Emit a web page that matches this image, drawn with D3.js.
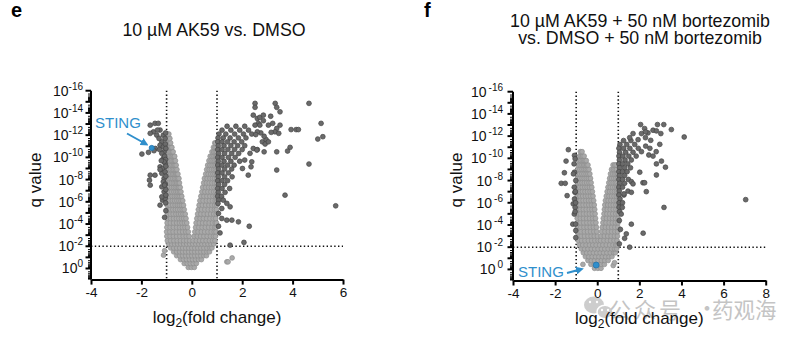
<!DOCTYPE html>
<html>
<head>
<meta charset="utf-8">
<script src="https://cdn.jsdelivr.net/npm/d3@7"></script>
<style>
  body { margin: 0; background: #fff; }
  svg { display: block; font-family: "Liberation Sans", Arial, sans-serif; }
</style>
</head>
<body>
<svg id="chart" width="804" height="344"></svg>
<script>
// rows: [-log10(q), log2FC, log2FC, ...] for the non-significant cloud
const eLightRows = [
  [0.1, -0.14, -0.02, 0.1],
  [0.45, -0.3, -0.18, -0.06, 0.06, 0.18],
  [0.8, -0.45, -0.33, -0.21, -0.09, 0.03, 0.15, 0.27, 0.38],
  [1.15, -0.6, -0.48, -0.36, -0.24, -0.12, 0.0, 0.12, 0.24, 0.36, 0.48, 0.58],
  [1.5, -0.72, -0.6, -0.48, -0.36, -0.24, -0.12, 0.0, 0.12, 0.24, 0.36, 0.48, 0.6, 0.7],
  [1.85, -0.84, -0.72, -0.6, -0.48, -0.36, -0.24, -0.12, 0.0, 0.12, 0.24, 0.36, 0.48, 0.6, 0.72, 0.8],
  [2.2, -0.92, -0.8, -0.68, -0.56, -0.44, -0.32, -0.2, -0.08, 0.04, 0.16, 0.28, 0.4, 0.52, 0.64, 0.76, 0.87],
  [2.5, -0.97, -0.84, -0.71, -0.58, -0.45, -0.32, -0.2, -0.08, 0.05, 0.18, 0.31, 0.44, 0.57, 0.7, 0.82, 0.92],
  [2.9, -0.99, -0.86, -0.73, -0.6, -0.47, -0.34, -0.22, -0.11, 0.09, 0.22, 0.35, 0.48, 0.61, 0.74, 0.86, 0.94],
  [3.3, -1.0, -0.87, -0.74, -0.61, -0.48, -0.36, -0.24, -0.14, 0.12, 0.25, 0.38, 0.51, 0.64, 0.77, 0.89, 0.96],
  [3.7, -0.99, -0.86, -0.73, -0.6, -0.48, -0.37, -0.27, -0.17, 0.15, 0.28, 0.41, 0.54, 0.67, 0.8, 0.91, 0.97],
  [4.1, -0.98, -0.85, -0.72, -0.6, -0.49, -0.39, -0.29, -0.2, 0.17, 0.3, 0.43, 0.56, 0.69, 0.82, 0.93, 0.98],
  [4.5, -0.97, -0.84, -0.72, -0.61, -0.51, -0.41, -0.32, -0.23, 0.2, 0.33, 0.46, 0.59, 0.72, 0.85, 0.95],
  [4.9, -0.97, -0.85, -0.74, -0.63, -0.53, -0.44, -0.35, -0.26, 0.23, 0.36, 0.49, 0.62, 0.75, 0.87, 0.97],
  [5.3, -0.97, -0.86, -0.75, -0.65, -0.56, -0.47, -0.38, -0.3, 0.26, 0.39, 0.52, 0.65, 0.78, 0.9, 0.98],
  [5.7, -0.98, -0.87, -0.76, -0.66, -0.57, -0.49, -0.41, -0.33, 0.29, 0.42, 0.55, 0.68, 0.8, 0.91, 0.99],
  [6.1, -0.98, -0.87, -0.77, -0.68, -0.59, -0.51, -0.43, -0.36, 0.32, 0.45, 0.58, 0.7, 0.82, 0.93, 0.99],
  [6.5, -0.98, -0.88, -0.78, -0.69, -0.61, -0.54, -0.47, -0.4, 0.36, 0.48, 0.6, 0.72, 0.84, 0.94, 1.0],
  [6.9, -0.99, -0.89, -0.8, -0.71, -0.63, -0.56, -0.49, -0.43, 0.4, 0.52, 0.64, 0.76, 0.87, 0.96],
  [7.3, -0.99, -0.89, -0.8, -0.72, -0.65, -0.58, -0.52, -0.46, 0.43, 0.55, 0.67, 0.78, 0.88, 0.97],
  [7.7, -0.99, -0.9, -0.81, -0.73, -0.66, -0.6, -0.54, -0.49, 0.47, 0.58, 0.69, 0.8, 0.9, 0.98],
  [8.1, -1.0, -0.91, -0.82, -0.75, -0.68, -0.62, -0.56, -0.51, 0.5, 0.61, 0.72, 0.82, 0.91, 0.99],
  [8.5, -1.0, -0.91, -0.83, -0.76, -0.7, -0.64, -0.59, -0.55, 0.55, 0.65, 0.75, 0.84, 0.92, 0.99],
  [8.9, -1.0, -0.92, -0.84, -0.77, -0.71, -0.65, -0.59, 0.59, 0.69, 0.78, 0.87, 0.94, 1.0],
  [9.3, -1.0, -0.92, -0.85, -0.78, -0.72, -0.67, -0.62, 0.63, 0.72, 0.81, 0.89, 0.96],
  [9.7, -1.0, -0.93, -0.86, -0.8, -0.74, -0.69, -0.65, 0.68, 0.77, 0.85, 0.92, 0.98],
  [10.1, -1.0, -0.93, -0.87, -0.81, -0.76, -0.71, -0.68, 0.73, 0.81, 0.88, 0.94, 0.99],
  [10.5, -0.99, -0.93, -0.87, -0.82, -0.77, -0.74, 0.8, 0.87, 0.93, 0.98],
  [10.9, -0.99, -0.93, -0.88, -0.83, -0.79, 0.86, 0.92, 0.97],
  [11.3, -0.98, -0.93, -0.88, -0.84, 0.91, 0.95],
  [11.7, -0.97, -0.92, -0.87],
  [12.1, -0.95, -0.91],
  [0.6, 1.39, 1.44],
  [0.95, 1.6],
  [1.2, -1.12],
  [1.6, -1.08]
];

// [log2FC, -log10(q)] for significant proteins
const eDark = [
  [-1.98, 10.3], [-1.72, 10.45], [-1.65, 12.9], [-1.46, 13.06], [-1.33, 13.06], [-1.52, 12.3],
  [-1.39, 12.0], [-1.65, 12.16], [-1.26, 12.46], [-1.13, 12.0], [-1.06, 11.7], [-1.19, 11.4],
  [-1.26, 11.1], [-1.13, 10.95], [-1.1, 10.5], [-1.19, 10.36], [-1.13, 9.9], [-1.06, 9.46],
  [-1.26, 9.15], [-1.16, 9.0], [-1.19, 8.56], [-1.1, 8.1], [-1.13, 7.8], [-1.19, 7.35],
  [-1.1, 6.9], [-1.06, 6.45], [-1.16, 6.15], [-1.26, 5.7], [-1.65, 8.4], [-1.68, 7.95],
  [-1.65, 7.5], [-1.46, 8.4], [-1.26, 8.9], [-1.06, 6.3], [-1.19, 6.45], [-1.04, 12.2],
  [-1.05, 11.2], [-1.03, 10.8], [-1.08, 10.1], [-1.04, 9.8], [-1.1, 9.6], [-1.03, 9.2],
  [-1.06, 8.7], [-1.03, 8.3], [-1.05, 7.6], [-1.03, 7.1], [-1.08, 7.5], [-1.03, 6.6],
  [-1.04, 5.9], [-1.03, 5.2], [-1.08, 4.6], [-1.36, 12.46], [-1.3, 11.7], [-1.45, 10.8],
  [-1.28, 10.7], [-1.21, 9.7], [-1.5, 10.6],
  // dense block just right of log2FC = 1
  [1.4, 12.8], [1.75, 12.8], [2.1, 12.8],
  [1.2, 12.45], [1.55, 12.45], [1.9, 12.45], [2.25, 12.45],
  [1.08, 12.1], [1.35, 12.1], [1.7, 12.1], [2.05, 12.1], [2.38, 12.1],
  [1.04, 11.75], [1.25, 11.75], [1.52, 11.75], [1.85, 11.75], [2.15, 11.75],
  [1.03, 11.4], [1.2, 11.4], [1.42, 11.4], [1.68, 11.4], [1.98, 11.4],
  [1.05, 11.05], [1.28, 11.05], [1.55, 11.05], [1.82, 11.05], [2.1, 11.05],
  [1.03, 10.7], [1.2, 10.7], [1.43, 10.7], [1.7, 10.7], [2.0, 10.7],
  [1.06, 10.35], [1.3, 10.35], [1.58, 10.35], [1.86, 10.35],
  [1.03, 10.0], [1.2, 10.0], [1.45, 10.0], [1.72, 10.0],
  [1.05, 9.65], [1.28, 9.65], [1.55, 9.65], [1.9, 9.65],
  [1.03, 9.3], [1.2, 9.3], [1.42, 9.3], [1.68, 9.3],
  [1.06, 8.95], [1.3, 8.95], [1.58, 8.95],
  [1.03, 8.6], [1.2, 8.6], [1.45, 8.6],
  [1.05, 8.25], [1.3, 8.25], [1.6, 8.25],
  [1.03, 7.9], [1.2, 7.9], [1.42, 7.9],
  [1.06, 7.55], [1.3, 7.55],
  [1.03, 7.2], [1.2, 7.2], [1.5, 7.2],
  [1.05, 6.85], [1.32, 6.85],
  [1.03, 6.5], [1.18, 6.5],
  [1.06, 6.15], [1.25, 6.15], [1.04, 5.85], [1.39, 5.86],
  // scattered, up-regulated
  [2.51, 14.86], [2.51, 14.5], [3.31, 14.86], [3.37, 14.5], [3.5, 14.1], [4.65, 14.86],
  [2.44, 13.8], [2.6, 13.5], [2.7, 13.6], [2.84, 13.8], [2.64, 13.06], [2.51, 12.9],
  [2.7, 12.9], [2.84, 13.3], [3.13, 13.7], [3.21, 13.06], [3.04, 12.9], [3.5, 12.9],
  [3.37, 12.6], [3.3, 12.3], [3.45, 12.16], [3.94, 12.5], [4.14, 12.5], [4.23, 12.5],
  [5.13, 13.06], [5.0, 11.65], [5.2, 11.86], [4.65, 9.4], [3.37, 8.86], [3.7, 6.6],
  [3.9, 10.9], [3.8, 10.57], [3.37, 10.5], [2.87, 10.5], [2.6, 10.7], [2.8, 11.4],
  [2.95, 11.6], [2.87, 11.9], [2.74, 12.2], [2.6, 12.3], [2.54, 12.05], [2.35, 9.15],
  [2.24, 8.4], [2.01, 9.0], [2.1, 9.76], [2.31, 10.36], [2.44, 10.8], [2.58, 10.66],
  [2.91, 11.2], [3.04, 11.4], [3.15, 12.25], [2.38, 9.6],
  [1.19, 5.4], [1.52, 5.55], [1.06, 4.95], [1.19, 4.5], [1.39, 4.35], [1.59, 4.35],
  [1.85, 4.2], [2.28, 3.8], [1.52, 2.1], [2.07, 2.35], [1.06, 3.8], [1.12, 3.2],
  [5.71, 5.64]
];

const eSting = [-1.59, 10.85];

const fLightRows = [
  [0.1, -0.13, 0.03, 0.18],
  [0.45, -0.3, -0.14, 0.02, 0.18, 0.34],
  [0.8, -0.44, -0.28, -0.12, 0.04, 0.2, 0.36, 0.52],
  [1.15, -0.56, -0.4, -0.24, -0.08, 0.08, 0.24, 0.4, 0.56, 0.7],
  [1.5, -0.66, -0.5, -0.34, -0.18, -0.02, 0.14, 0.3, 0.46, 0.62, 0.78, 0.86],
  [1.85, -0.76, -0.6, -0.44, -0.28, -0.12, 0.04, 0.2, 0.36, 0.52, 0.68, 0.82, 0.92],
  [2.2, -0.85, -0.69, -0.53, -0.37, -0.21, -0.05, 0.11, 0.27, 0.43, 0.59, 0.75, 0.88, 0.95],
  [2.6, -0.9, -0.74, -0.58, -0.42, -0.26, -0.11, 0.04, 0.16, 0.32, 0.48, 0.64, 0.8, 0.94],
  [3.0, -0.92, -0.76, -0.6, -0.44, -0.29, -0.14, 0.01, 0.18, 0.34, 0.5, 0.66, 0.82, 0.96],
  [3.4, -0.93, -0.77, -0.61, -0.46, -0.31, -0.16, -0.02, 0.21, 0.37, 0.53, 0.69, 0.84, 0.97],
  [3.8, -0.94, -0.78, -0.63, -0.48, -0.33, -0.18, -0.04, 0.24, 0.39, 0.54, 0.69, 0.84, 0.98],
  [4.2, -0.94, -0.79, -0.64, -0.49, -0.34, -0.2, -0.06, 0.27, 0.42, 0.57, 0.72, 0.86, 0.99],
  [4.6, -0.95, -0.8, -0.65, -0.5, -0.36, -0.22, -0.08, 0.29, 0.44, 0.59, 0.73, 0.87, 0.99],
  [5.0, -0.95, -0.8, -0.65, -0.51, -0.37, -0.23, -0.1, 0.32, 0.46, 0.6, 0.74, 0.88, 1.0],
  [5.4, -0.95, -0.8, -0.66, -0.52, -0.38, -0.25, -0.12, 0.34, 0.48, 0.62, 0.76, 0.89, 1.0],
  [5.8, -0.95, -0.81, -0.67, -0.53, -0.4, -0.27, -0.14, 0.36, 0.5, 0.63, 0.76, 0.89, 1.0],
  [6.2, -0.95, -0.81, -0.67, -0.54, -0.41, -0.29, -0.17, 0.39, 0.52, 0.65, 0.78, 0.9, 1.0],
  [6.6, -0.95, -0.82, -0.69, -0.56, -0.44, -0.32, -0.2, 0.43, 0.56, 0.68, 0.8, 0.91, 1.0],
  [7.0, -0.95, -0.82, -0.7, -0.58, -0.46, -0.34, -0.23, 0.47, 0.59, 0.71, 0.82, 0.92, 1.0],
  [7.4, -0.95, -0.83, -0.71, -0.59, -0.48, -0.37, -0.26, 0.51, 0.62, 0.73, 0.84, 0.93, 1.0],
  [7.8, -0.94, -0.83, -0.72, -0.61, -0.5, -0.39, -0.29, 0.55, 0.66, 0.76, 0.86, 0.94],
  [8.2, -0.94, -0.83, -0.72, -0.62, -0.52, -0.42, -0.32, 0.59, 0.69, 0.79, 0.88, 0.96],
  [8.6, -0.93, -0.83, -0.73, -0.63, -0.53, -0.44, -0.35, 0.63, 0.73, 0.82, 0.9, 0.97],
  [9.0, -0.92, -0.82, -0.72, -0.63, -0.55, -0.47, -0.39, 0.68, 0.77, 0.85, 0.92],
  [9.4, -0.9, -0.81, -0.72, -0.64, -0.57, -0.5, -0.44, 0.75, 0.83, 0.9],
  [9.8, -0.88, -0.79, -0.71, -0.64, -0.58, -0.52],
  [10.2, -0.84, -0.76, -0.69, -0.62],
  [10.6, -0.8, -0.72],
  [0.45, -0.68],
  [0.35, 0.76],
  [0.6, 0.82]
];

const fDark = [
  [-1.37, 10.78], [-1.48, 9.75], [-1.56, 8.7], [-1.71, 7.75], [-1.52, 7.75], [-1.43, 6.64],
  [-1.16, 4.07], [-1.08, 10.26], [-1.05, 9.96], [-1.1, 9.5], [-1.08, 8.75], [-1.13, 8.6],
  [-1.09, 7.4], [-1.06, 6.94], [-1.08, 6.34], [-1.14, 5.9], [-1.05, 5.58], [-1.09, 4.98],
  [-1.03, 4.08], [-1.02, 2.86], [-1.04, 7.0], [-1.02, 8.0], [-1.03, 6.0], [-1.05, 5.2],
  [-1.02, 3.5],
  // dense block just right of log2FC = 1
  [1.25, 11.6], [1.6, 11.6],
  [1.08, 11.25], [1.4, 11.25], [1.78, 11.25],
  [1.03, 10.9], [1.25, 10.9], [1.55, 10.9], [1.95, 10.9],
  [1.06, 10.55], [1.35, 10.55], [1.7, 10.55],
  [1.03, 10.2], [1.22, 10.2], [1.5, 10.2], [1.85, 10.2],
  [1.05, 9.85], [1.32, 9.85], [1.62, 9.85],
  [1.03, 9.5], [1.2, 9.5], [1.45, 9.5],
  [1.06, 9.15], [1.3, 9.15], [1.58, 9.15],
  [1.03, 8.8], [1.2, 8.8], [1.42, 8.8],
  [1.05, 8.45], [1.3, 8.45],
  [1.03, 8.1], [1.2, 8.1], [1.48, 8.1],
  [1.06, 7.75], [1.3, 7.75],
  [1.03, 7.4], [1.2, 7.4],
  [1.05, 7.05], [1.46, 7.05],
  [1.03, 6.7], [1.27, 6.7], [1.08, 6.35], [1.04, 6.0], [1.2, 6.0],
  [1.04, 5.6], [1.06, 5.2], [1.05, 4.4], [1.1, 3.6], [1.05, 2.3],
  // scattered, up-regulated
  [2.06, 13.04], [2.86, 13.04], [3.16, 13.04], [3.52, 12.59], [4.13, 11.92], [2.25, 12.68],
  [2.41, 12.29], [2.65, 12.53], [2.81, 12.47], [3.02, 12.23], [2.1, 12.23], [2.3, 12.38],
  [2.29, 11.86], [2.54, 11.62], [1.7, 12.23], [1.54, 11.86], [1.94, 11.68], [2.97, 11.26],
  [2.5, 10.9], [2.3, 11.1], [2.1, 10.6], [2.45, 10.3], [2.8, 10.6], [2.65, 10.2],
  [3.05, 9.75], [2.81, 9.5], [3.24, 9.2], [2.81, 8.5], [2.33, 7.0], [2.17, 7.8],
  [2.25, 7.8], [2.02, 8.75], [1.62, 7.9], [1.7, 7.7], [3.17, 5.58], [7.05, 6.28],
  [2.18, 3.26], [1.62, 4.07], [1.54, 2.0], [1.3, 2.8], [1.38, 3.2], [1.14, 4.98],
  [1.19, 5.58], [1.27, 6.8], [1.62, 6.94]
];

const fSting = [-0.05, 0.39];

const eXTicks = [-4, -2, 0, 2, 4, 6];
const fXTicks = [-4, -2, 0, 2, 4, 6, 8];
const yLabelExps = [16, 14, 12, 10, 8, 6, 4, 2, 0];

const LIGHT_FILL = '#a9a9a9', LIGHT_STROKE = '#8e8e8e';
const DARK_FILL = '#6a6a6a', DARK_STROKE = '#454545';
const BLUE = '#2f8fcc';

const svg = d3.select('#chart');

svg.append('defs').append('marker')
  .attr('id', 'arrow')
  .attr('viewBox', '0 0 10 10')
  .attr('refX', 5).attr('refY', 5)
  .attr('markerWidth', 4).attr('markerHeight', 4)
  .attr('orient', 'auto')
  .append('path')
  .attr('d', 'M0,0 L10,5 L0,10 z')
  .attr('fill', BLUE);

function rowsToPoints(rows) {
  const pts = [];
  rows.forEach(r => r.slice(1).forEach(v => pts.push([v, r[0]])));
  return pts;
}

function drawPanel(p) {
  const g = svg.append('g');
  const x = d3.scaleLinear().domain(p.xDomain).range(p.xRange);
  const y = d3.scaleLinear().domain([-1, 16]).range(p.yRange);
  const x0 = p.xRange[0], x1 = p.xRange[1];
  const yBot = p.yRange[0], yTop = p.yRange[1];

  // cut-off lines: |log2FC| = 1 and q = 0.01
  const dotted = g.append('g')
    .attr('stroke', '#111')
    .attr('stroke-width', 1.6)
    .attr('stroke-dasharray', '1.4,2.4');
  [-1, 1].forEach(v => {
    dotted.append('line')
      .attr('x1', x(v)).attr('x2', x(v))
      .attr('y1', yTop).attr('y2', yBot);
  });
  dotted.append('line')
    .attr('x1', x0).attr('x2', x1)
    .attr('y1', y(2)).attr('y2', y(2));

  g.append('g').selectAll('circle')
    .data(rowsToPoints(p.lightRows))
    .join('circle')
    .attr('cx', d => x(d[0]))
    .attr('cy', d => y(d[1]))
    .attr('r', 2.4)
    .attr('fill', LIGHT_FILL)
    .attr('stroke', LIGHT_STROKE)
    .attr('stroke-width', 0.7);

  g.append('g').selectAll('circle')
    .data(p.dark)
    .join('circle')
    .attr('cx', d => x(d[0]))
    .attr('cy', d => y(d[1]))
    .attr('r', 2.4)
    .attr('fill', DARK_FILL)
    .attr('stroke', DARK_STROKE)
    .attr('stroke-width', 0.7);

  g.append('circle')
    .attr('cx', x(p.sting[0]))
    .attr('cy', y(p.sting[1]))
    .attr('r', p.stingR)
    .attr('fill', BLUE)
    .attr('stroke', '#1f6fa8')
    .attr('stroke-width', 0.7);

  // x axis
  const xAxis = g.append('g')
    .attr('transform', `translate(0,${yBot})`)
    .call(d3.axisBottom(x).tickValues(p.xTicks).tickSize(5).tickSizeOuter(0).tickPadding(3));
  xAxis.select('.domain').attr('stroke', '#000').attr('stroke-width', 2);
  xAxis.selectAll('.tick line').attr('stroke', '#000').attr('stroke-width', 2);
  xAxis.selectAll('.tick text')
    .attr('font-size', 13.5)
    .attr('fill', '#111')
    .attr('font-family', '"Liberation Sans", Arial, sans-serif')
    .text(d => d < 0 ? '-' + Math.abs(d) : d);

  // y axis: log decades with minor ticks at 2..9
  const minor = [];
  for (let d = -1; d < 16; d++) {
    for (let k = 2; k <= 9; k++) minor.push(d + 1 - Math.log10(k));
  }
  const major = d3.range(0, 17);
  const yAxis = g.append('g').attr('transform', `translate(${x0},0)`);
  yAxis.append('line')
    .attr('x1', 0).attr('x2', 0)
    .attr('y1', yTop).attr('y2', yBot)
    .attr('stroke', '#000').attr('stroke-width', 2);
  yAxis.selectAll('.minor')
    .data(minor)
    .join('line')
    .attr('class', 'minor')
    .attr('x1', -3).attr('x2', 0)
    .attr('y1', d => y(d)).attr('y2', d => y(d))
    .attr('stroke', '#000').attr('stroke-width', 1);
  yAxis.selectAll('.major')
    .data(major)
    .join('line')
    .attr('class', 'major')
    .attr('x1', -5.5).attr('x2', 0)
    .attr('y1', d => y(d)).attr('y2', d => y(d))
    .attr('stroke', '#000').attr('stroke-width', 2);

  const labels = yAxis.selectAll('.ylab')
    .data(yLabelExps)
    .join('text')
    .attr('class', 'ylab')
    .attr('x', -p.labelGap)
    .attr('y', d => y(d) + 5)
    .attr('text-anchor', 'end')
    .attr('font-size', 14)
    .attr('fill', '#111');
  labels.append('tspan').text('10');
  labels.append('tspan')
    .attr('dx', p.supGap)
    .attr('dy', -6)
    .attr('font-size', 10)
    .text(d => d === 0 ? '0' : '-' + d);

  // axis titles
  const xt = g.append('text')
    .attr('x', (x0 + x1) / 2)
    .attr('y', p.xTitleY)
    .attr('text-anchor', 'middle')
    .attr('font-size', 17)
    .attr('fill', '#111');
  xt.append('tspan').text('log');
  xt.append('tspan').attr('font-size', 12).attr('dy', 4).text('2');
  xt.append('tspan').attr('dy', -4).text('(fold change)');

  g.append('text')
    .attr('transform', `translate(${p.yTitleX},${p.yTitleY}) rotate(-90)`)
    .attr('text-anchor', 'middle')
    .attr('font-size', 17)
    .attr('fill', '#111')
    .text('q value');

  // panel letter and title
  g.append('text')
    .attr('x', p.letterX).attr('y', p.letterY)
    .attr('font-size', 20)
    .attr('font-weight', 'bold')
    .text(p.letter);

  p.title.forEach((line, i) => {
    g.append('text')
      .attr('x', p.titleX)
      .attr('y', p.titleY + i * 17)
      .attr('text-anchor', 'middle')
      .attr('font-size', 17.8)
      .attr('fill', '#111')
      .text(line);
  });

  // STING call-out
  g.append('text')
    .attr('x', p.stingLabel[0]).attr('y', p.stingLabel[1])
    .attr('font-size', 15)
    .attr('fill', BLUE)
    .text('STING');
  g.append('line')
    .attr('x1', p.arrow[0]).attr('y1', p.arrow[1])
    .attr('x2', p.arrow[2]).attr('y2', p.arrow[3])
    .attr('stroke', BLUE)
    .attr('stroke-width', 2)
    .attr('marker-end', 'url(#arrow)');
}

// watermark, drawn under the right panel's axis title
const wm = svg.append('g').attr('opacity', 0.5);
wm.append('ellipse').attr('cx', 594).attr('cy', 305).attr('rx', 10).attr('ry', 8.5).attr('fill', '#9c9c9c');
wm.append('ellipse').attr('cx', 605).attr('cy', 312).attr('rx', 8).attr('ry', 6.8)
  .attr('fill', '#9c9c9c').attr('stroke', '#fff').attr('stroke-width', 1.5);
[[590, 302], [597, 302], [602, 310], [608, 310]].forEach(c => {
  wm.append('circle').attr('cx', c[0]).attr('cy', c[1]).attr('r', 1.2).attr('fill', '#fff');
});
const wmFont = '"Noto Sans CJK SC", sans-serif';
wm.append('text').attr('x', 609).attr('y', 318).attr('font-size', 22).attr('letter-spacing', 3)
  .attr('font-family', wmFont).attr('fill', '#8a8a8a').text('公众号');
wm.append('text').attr('x', 696).attr('y', 316).attr('font-size', 22)
  .attr('font-family', wmFont).attr('fill', '#8a8a8a').text('·');
wm.append('text').attr('x', 712).attr('y', 318).attr('font-size', 21.5)
  .attr('font-family', wmFont).attr('fill', '#8a8a8a').text('药观海');

drawPanel({
  letter: 'e', letterX: 11, letterY: 17,
  title: ['10 µM AK59 vs. DMSO'], titleX: 214, titleY: 35.5,
  xDomain: [-4, 6], xRange: [91, 343], yRange: [279.6, 90.7],
  xTicks: eXTicks, labelGap: 8, supGap: 0,
  lightRows: eLightRows, dark: eDark, sting: eSting, stingR: 2.6,
  xTitleY: 323, yTitleX: 41, yTitleY: 180,
  stingLabel: [95, 128], arrow: [127, 133.5, 145, 143.5]
});

drawPanel({
  letter: 'f', letterX: 424, letterY: 17,
  title: ['10 µM AK59 + 50 nM bortezomib', 'vs. DMSO + 50 nM bortezomib'], titleX: 640, titleY: 27,
  xDomain: [-4, 8], xRange: [513, 765.7], yRange: [280.5, 91.7],
  xTicks: fXTicks, labelGap: 10, supGap: 2,
  lightRows: fLightRows, dark: fDark, sting: fSting, stingR: 3,
  xTitleY: 324, yTitleX: 462, yTitleY: 180,
  stingLabel: [518, 277], arrow: [567, 273, 580, 269.5]
});
</script>
</body>
</html>
